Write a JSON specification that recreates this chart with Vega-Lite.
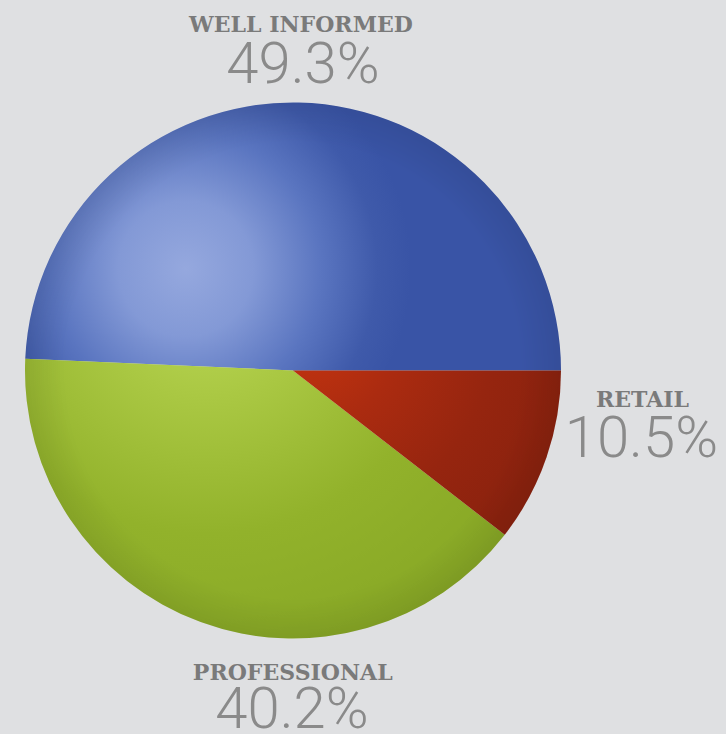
{
  "$schema": "https://vega.github.io/schema/vega-lite/v6.json",
  "width": 586,
  "height": 727,
  "autosize": {"type": "none"},
  "padding": {"left": 0, "top": 7, "right": 140, "bottom": 0},
  "background": "#dfe0e2",
  "view": {"stroke": null},
  "data": {
    "values": [
      {"category": "RETAIL", "share": 0.105, "rank": 1},
      {"category": "PROFESSIONAL", "share": 0.402, "rank": 2},
      {"category": "WELL INFORMED", "share": 0.493, "rank": 3}
    ]
  },
  "layer": [
    {
      "transform": [
        {"stack": "share", "groupby": [], "sort": [{"field": "rank", "order": "ascending"}], "as": ["s0", "s1"]},
        {"filter": "datum.category === 'WELL INFORMED'"}
      ],
      "mark": {"type": "arc", "radius": 268,
        "fill": {"gradient": "radial", "x1": 0.3, "y1": 0.56, "r1": 0, "x2": 0.3, "y2": 0.56, "r2": 0.42,
          "stops": [
            {"offset": 0, "color": "#95a8de"},
            {"offset": 0.3, "color": "#8399d6"},
            {"offset": 0.6, "color": "#5a75c0"},
            {"offset": 0.85, "color": "#3f5aaa"},
            {"offset": 1, "color": "#3954a6"}
          ]}},
      "encoding": {
        "theta": {"field": "s0", "type": "quantitative", "scale": {"domain": [0, 1], "range": [1.5708, 7.854]}},
        "theta2": {"field": "s1"}
      }
    },
    {
      "transform": [
        {"stack": "share", "groupby": [], "sort": [{"field": "rank", "order": "ascending"}], "as": ["s0", "s1"]},
        {"filter": "datum.category === 'PROFESSIONAL'"}
      ],
      "mark": {"type": "arc", "radius": 268,
        "fill": {"gradient": "radial", "x1": 0.38, "y1": 0.05, "r1": 0, "x2": 0.38, "y2": 0.05, "r2": 0.95,
          "stops": [
            {"offset": 0, "color": "#bedb5a"},
            {"offset": 0.25, "color": "#aac843"},
            {"offset": 0.55, "color": "#92b22b"},
            {"offset": 1, "color": "#83a323"}
          ]}},
      "encoding": {
        "theta": {"field": "s0", "type": "quantitative", "scale": {"domain": [0, 1], "range": [1.5708, 7.854]}},
        "theta2": {"field": "s1"}
      }
    },
    {
      "transform": [
        {"stack": "share", "groupby": [], "sort": [{"field": "rank", "order": "ascending"}], "as": ["s0", "s1"]},
        {"filter": "datum.category === 'RETAIL'"}
      ],
      "mark": {"type": "arc", "radius": 268,
        "fill": {"gradient": "radial", "x1": 0.05, "y1": 0.05, "r1": 0, "x2": 0.05, "y2": 0.05, "r2": 1.0,
          "stops": [
            {"offset": 0, "color": "#c6350f"},
            {"offset": 0.35, "color": "#ab2b10"},
            {"offset": 0.7, "color": "#96250f"},
            {"offset": 1, "color": "#8b220e"}
          ]}},
      "encoding": {
        "theta": {"field": "s0", "type": "quantitative", "scale": {"domain": [0, 1], "range": [1.5708, 7.854]}},
        "theta2": {"field": "s1"}
      }
    },
    {
      "data": {"values": [{}]},
      "mark": {"type": "arc", "radius": 268, "theta": 0, "theta2": 6.2832,
        "fill": {"gradient": "radial", "x1": 0.5, "y1": 0.5, "r1": 0, "x2": 0.5, "y2": 0.5, "r2": 0.5,
          "stops": [
            {"offset": 0, "color": "rgba(0,0,0,0)"},
            {"offset": 0.85, "color": "rgba(0,0,0,0)"},
            {"offset": 1, "color": "rgba(0,0,0,0.08)"}
          ]}},
      "encoding": {}
    },
    {
      "mark": {"type": "text", "radius": 338.6, "align": "center", "baseline": "alphabetic", "font": "DejaVu Serif", "fontWeight": "bold", "fontSize": 22, "fill": "#7a7a7a"},
      "encoding": {
        "theta": {"field": "share", "type": "quantitative", "stack": true, "bandPosition": 0.5005, "scale": {"domain": [0, 1], "range": [1.5708, 7.854]}},
        "order": {"field": "rank", "type": "quantitative"},
        "detail": {"field": "category", "type": "nominal"},
        "text": {"condition": {"test": "datum.category === 'WELL INFORMED'", "field": "category", "type": "nominal"}, "value": ""}
      }
    },
    {
      "mark": {"type": "text", "radius": 287.7, "align": "center", "baseline": "alphabetic", "font": "Roboto", "fontWeight": 300, "fontSize": 58, "fill": "#8a8a8a"},
      "encoding": {
        "theta": {"field": "share", "type": "quantitative", "stack": true, "bandPosition": 0.5041, "scale": {"domain": [0, 1], "range": [1.5708, 7.854]}},
        "order": {"field": "rank", "type": "quantitative"},
        "detail": {"field": "category", "type": "nominal"},
        "text": {"condition": {"test": "datum.category === 'WELL INFORMED'", "field": "share", "type": "quantitative", "format": ".1%"}, "value": ""}
      }
    },
    {
      "mark": {"type": "text", "radius": 351.4, "align": "center", "baseline": "alphabetic", "font": "DejaVu Serif", "fontWeight": "bold", "fontSize": 22, "fill": "#7a7a7a"},
      "encoding": {
        "theta": {"field": "share", "type": "quantitative", "stack": true, "bandPosition": 0.1564, "scale": {"domain": [0, 1], "range": [1.5708, 7.854]}},
        "order": {"field": "rank", "type": "quantitative"},
        "detail": {"field": "category", "type": "nominal"},
        "text": {"condition": {"test": "datum.category === 'RETAIL'", "field": "category", "type": "nominal"}, "value": ""}
      }
    },
    {
      "mark": {"type": "text", "radius": 359.05, "align": "center", "baseline": "alphabetic", "font": "Roboto", "fontWeight": 300, "fontSize": 58, "fill": "#8a8a8a"},
      "encoding": {
        "theta": {"field": "share", "type": "quantitative", "stack": true, "bandPosition": 0.3701, "scale": {"domain": [0, 1], "range": [1.5708, 7.854]}},
        "order": {"field": "rank", "type": "quantitative"},
        "detail": {"field": "category", "type": "nominal"},
        "text": {"condition": {"test": "datum.category === 'RETAIL'", "field": "share", "type": "quantitative", "format": ".1%"}, "value": ""}
      }
    },
    {
      "mark": {"type": "text", "radius": 309.5, "align": "center", "baseline": "alphabetic", "font": "DejaVu Serif", "fontWeight": "bold", "fontSize": 22, "fill": "#7a7a7a"},
      "encoding": {
        "theta": {"field": "share", "type": "quantitative", "stack": true, "bandPosition": 0.361, "scale": {"domain": [0, 1], "range": [1.5708, 7.854]}},
        "order": {"field": "rank", "type": "quantitative"},
        "detail": {"field": "category", "type": "nominal"},
        "text": {"condition": {"test": "datum.category === 'PROFESSIONAL'", "field": "category", "type": "nominal"}, "value": ""}
      }
    },
    {
      "mark": {"type": "text", "radius": 357.5, "align": "center", "baseline": "alphabetic", "font": "Roboto", "fontWeight": 300, "fontSize": 58, "fill": "#8a8a8a"},
      "encoding": {
        "theta": {"field": "share", "type": "quantitative", "stack": true, "bandPosition": 0.3618, "scale": {"domain": [0, 1], "range": [1.5708, 7.854]}},
        "order": {"field": "rank", "type": "quantitative"},
        "detail": {"field": "category", "type": "nominal"},
        "text": {"condition": {"test": "datum.category === 'PROFESSIONAL'", "field": "share", "type": "quantitative", "format": ".1%"}, "value": ""}
      }
    }
  ]
}
